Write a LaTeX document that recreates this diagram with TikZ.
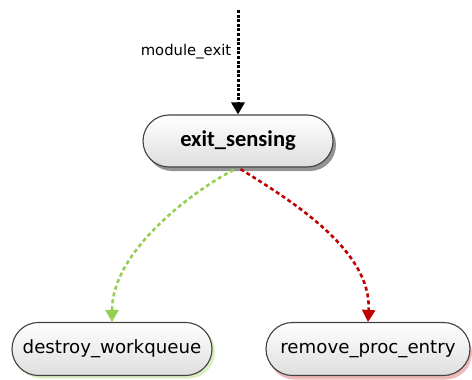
\documentclass[tikz,border=0pt]{standalone}
\usepackage{fontspec}
\usetikzlibrary{arrows.meta,shapes.misc,shadows}
\newfontfamily\headfont{Carlito}
\newfontfamily\plainfont{DejaVu Sans}
\definecolor{edgegreen}{RGB}{146,208,80}
\definecolor{edgered}{RGB}{192,0,0}
\tikzset{
  state/.style={rounded rectangle, draw=black!75, line width=1.1pt,
    top color=white, bottom color=black!13, inner sep=0pt},
  mainstate/.style={state, minimum width=190pt, minimum height=52pt,
    font=\headfont\bfseries\fontsize{22.5}{24}\selectfont,
    drop shadow={shadow xshift=3pt, shadow yshift=-4pt, fill=black!50, opacity=0.85}},
  leafstate/.style={state, minimum height=53pt,
    font=\plainfont\fontsize{18.2}{20}\selectfont},
  flow/.style={line width=2.6pt, dash pattern=on 4pt off 3pt,
    -{Triangle[width=13pt,length=12pt]}},
  entryflow/.style={flow, dash pattern=on 3pt off 1.6pt, line width=3pt}
}
\begin{document}
\begin{tikzpicture}[x=1pt,y=-1pt]
  \useasboundingbox (0,0) rectangle (472,380);
  \node[mainstate] (es) at (238,141) {exit\_sensing};
  \node[leafstate, minimum width=200pt,
        drop shadow={shadow xshift=3pt, shadow yshift=-3pt, fill=edgegreen!70}]
        (dw) at (112,349) {destroy\_workqueue};
  \node[leafstate, minimum width=204pt,
        drop shadow={shadow xshift=2pt, shadow yshift=-4pt, fill=edgered!55}]
        (rp) at (368,349) {remove\_proc\_entry};
  \coordinate (entry) at (238,10);
  \draw[entryflow] (entry) -- node[left=2pt, pos=0.4,
        font=\plainfont\fontsize{14.8}{16}\selectfont] (lbl) {module\_exit} (es.north);
  \draw[flow, edgegreen, shorten <=5pt] (es.south)
        .. controls (195,190) and (112,250) .. (dw.north);
  \draw[flow, edgered, shorten <=3pt] (es.south)
        .. controls (290,200) and (372,250) .. (rp.north);
\end{tikzpicture}
\end{document}
